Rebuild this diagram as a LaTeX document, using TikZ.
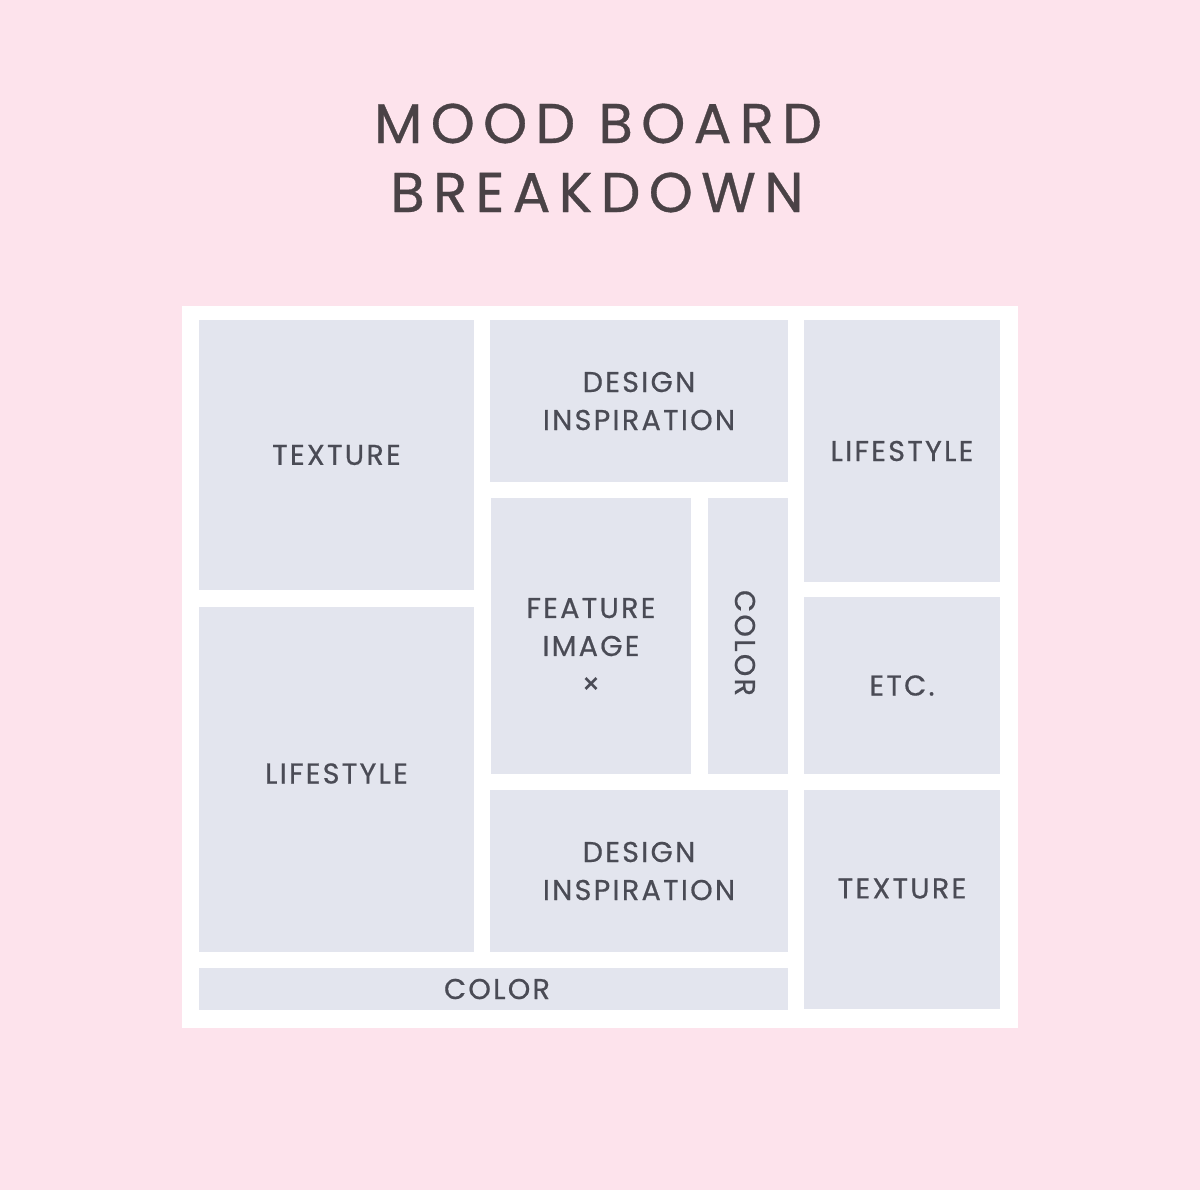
\documentclass[tikz,border=0pt]{standalone}
\usepackage{fontspec}
\setmainfont{Poppins}
\newfontfamily\titlefont[LetterSpace=15,FakeBold=0.6]{Poppins}
\newfontfamily\tilefont[LetterSpace=8,FakeBold=0.6]{Poppins}
\definecolor{bgpink}{HTML}{FDE3EC}
\definecolor{tilegrey}{HTML}{E3E5EE}
\definecolor{labelgrey}{HTML}{4A4B55}
\definecolor{titlegrey}{HTML}{4A4246}

\begin{document}
\begin{tikzpicture}[x=0.5pt,y=-0.5pt,
    tile/.style={fill=tilegrey},
    lbl/.style={text=labelgrey,font=\tilefont\fontsize{14.3}{19}\selectfont,align=center,inner sep=0pt},
    ttl/.style={text=titlegrey,font=\titlefont\fontsize{28}{33}\selectfont,anchor=base,inner sep=0pt}]
      % background and board
      \fill[bgpink] (0,0) rectangle (1200,1190);
      \fill[white] (182,306) rectangle (1018,1028);
      \node[ttl] (title1) at (598,143) {MOOD BOARD};
      \node[ttl] (title2) at (597,212) {BREAKDOWN};
      % left column
      \fill[tile] (199,320) rectangle (474,590) node[lbl,midway] (texture1) {TEXTURE};
      \fill[tile] (199,607) rectangle (474,952) node[lbl,midway,yshift=3pt] (lifestyle1) {LIFESTYLE};
      \fill[tile] (199,968) rectangle (788,1010) node[lbl,midway,xshift=1.75pt] (color1) {COLOR};
      % middle column
      \fill[tile] (490,320) rectangle (788,482) node[lbl,midway] (design1) {DESIGN\\INSPIRATION};
      \fill[tile] (491,498) rectangle (691,774) node[lbl,midway,yshift=-5pt] (feature) {FEATURE\\IMAGE\\×};
      \fill[tile] (708,498) rectangle (788,774) node[lbl,midway,rotate=-90,xshift=3.5pt,yshift=-1.5pt] (color2) {COLOR};
      \fill[tile] (490,790) rectangle (788,952) node[lbl,midway] (design2) {DESIGN\\INSPIRATION};
      % right column
      \fill[tile] (804,320) rectangle (1000,582) node[lbl,midway] (lifestyle2) {LIFESTYLE};
      \fill[tile] (804,597) rectangle (1000,774) node[lbl,midway] (etc) {ETC.};
      \fill[tile] (804,790) rectangle (1000,1009) node[lbl,midway,yshift=5.5pt] (texture2) {TEXTURE};
\end{tikzpicture}
\end{document}
